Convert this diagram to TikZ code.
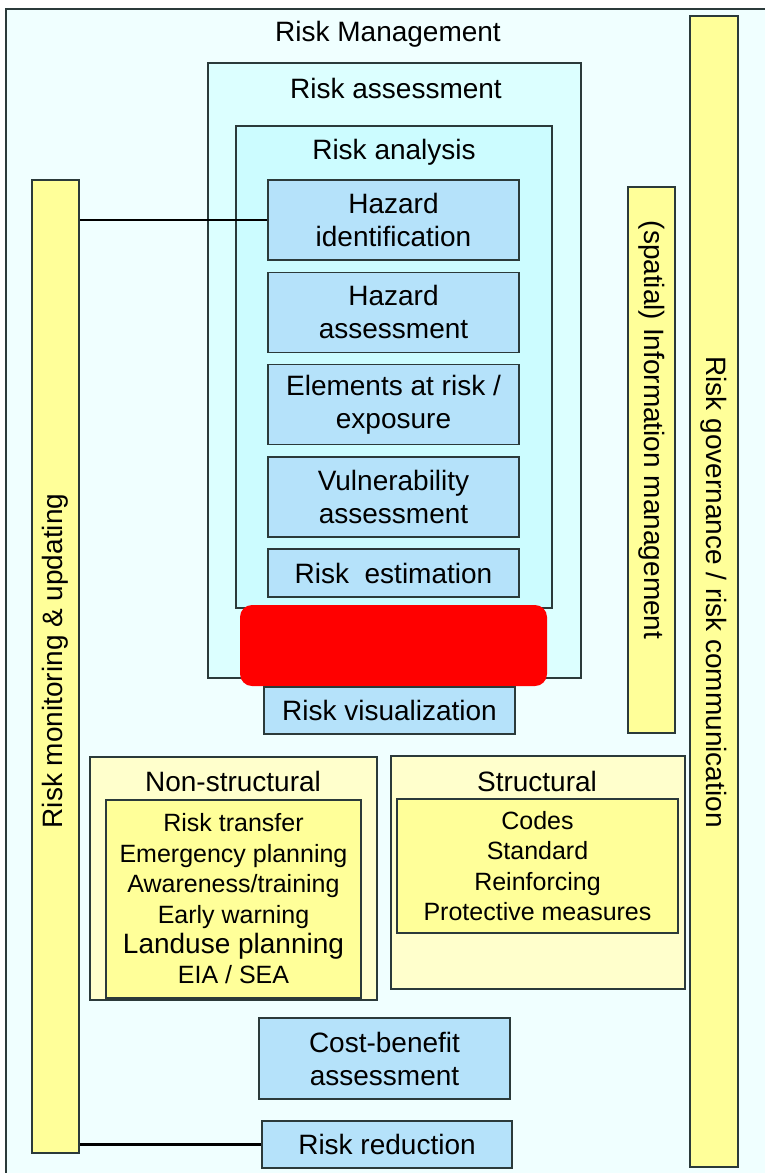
\documentclass[tikz,border=0pt]{standalone}
\usepackage{fontspec}
\setmainfont{Liberation Sans}
\usetikzlibrary{positioning}

\definecolor{edge}{HTML}{2B3A3A}
\definecolor{bgcyan}{HTML}{F0FFFF}
\definecolor{assesscyan}{HTML}{DCFFFF}
\definecolor{analysiscyan}{HTML}{CCFCFF}
\definecolor{stageblue}{HTML}{B5E2FA}
\definecolor{baryellow}{HTML}{FFFF99}
\definecolor{palesand}{HTML}{FFFFCC}

\begin{document}
\begin{tikzpicture}[
    x=0.5pt, y=-0.5pt,
    node distance=5.4pt, %% Gap between the stacked stages
    frame/.style={
        rectangle,
        draw=edge,
        line width=0.75pt,
        inner sep=0pt
    },
    stage/.style={
        frame,
        fill=stageblue,
        align=center,
        minimum width=125.5pt,
        minimum height=40pt,
        font=\fontsize{14}{16.5}\selectfont
    },
    bar/.style={
        frame,
        fill=baryellow,
        minimum width=23.5pt
    },
    heading/.style={
        inner sep=0pt,
        font=\fontsize{14}{16.5}\selectfont
    },
    listing/.style={
        frame,
        fill=baryellow,
        align=center,
        font=\fontsize{12.5}{15.2}\selectfont
    },
    link/.style={
        draw=black,
        line width=1.2pt
    }
]

\useasboundingbox (0,0) rectangle (765,1173);

%% Background frame
\node[frame, fill=bgcyan, anchor=north west, minimum width=385pt, minimum height=588.5pt] (mgmt) at (5,8) {};
\node[heading] (mgmt_title) at (388,34) {Risk Management};

%% Side bars
\node[bar, minimum height=486.5pt] (monitor) at (55.5,666.5) {};
\node[heading, rotate=90] (monitor_txt) at (55.5,661) {Risk monitoring \& updating};
\node[bar, minimum height=273pt] (info) at (651.5,460) {};
\node[heading, rotate=-90] (info_txt) at (651.5,430) {(spatial) Information management};
\node[bar, minimum width=24pt, minimum height=575.5pt] (gov) at (714,591.5) {};
\node[heading, rotate=-90] (gov_txt) at (714,592) {Risk governance / risk communication};

%% Risk assessment and analysis
\node[frame, fill=assesscyan, minimum width=186.5pt, minimum height=307.5pt] (assess) at (394.5,370.5) {};
\node[heading] (assess_title) at (396,88) {Risk assessment};
\node[frame, fill=analysiscyan, minimum width=158pt, minimum height=241pt] (analysis) at (394,367) {};
\node[heading] (analysis_title) at (394,152) {Risk analysis};

\node[stage] (hazid) at (393.5,220) {Hazard\\identification};
\node[stage, below=of hazid] (hazass) {Hazard\\assessment};
\node[stage, below=of hazass] (elements) {Elements at risk /\\exposure};
\node[stage, below=of elements] (vuln) {Vulnerability\\assessment};
\node[stage, below=of vuln, minimum height=24pt] (estim) {Risk\ \ estimation};

\node[fill=red, rounded corners=6pt, inner sep=0pt, minimum width=153.5pt, minimum height=40.5pt] (redbox) at (393.5,645.5) {};
\node[stage, minimum height=23.5pt] (visual) at (389.5,710.5) {Risk visualization};

%% Risk reduction options
\node[frame, fill=palesand, minimum width=143.5pt, minimum height=121.5pt] (nonstruct) at (233.5,878.5) {};
\node[heading] (nonstruct_title) at (233,781) {Non-structural};
\node[listing, minimum width=127.5pt, minimum height=99pt] (nonstruct_list) at (233.5,899)
    {Risk transfer\\Emergency planning\\Awareness/training\\Early warning\\{\fontsize{14}{15.2}\selectfont Landuse planning}\\EIA / SEA};

\node[frame, fill=palesand, minimum width=147pt, minimum height=116.5pt] (struct) at (538,872.5) {};
\node[heading] (struct_title) at (537,781) {Structural};
\node[listing, minimum width=140.5pt, minimum height=67pt] (struct_list) at (537.5,866)
    {Codes\\Standard\\Reinforcing\\Protective measures};

\node[stage, minimum height=40.5pt] (costben) at (384.5,1058.5) {Cost-benefit\\assessment};
\node[stage, minimum width=125pt, minimum height=23.5pt] (reduction) at (387,1144.5) {Risk reduction};

%% Connections to the monitoring bar
\draw[link] (hazid.west) -- (hazid.west -| monitor.east);
\draw[link] (reduction.west) -- (reduction.west -| monitor.east);

\end{tikzpicture}
\end{document}
